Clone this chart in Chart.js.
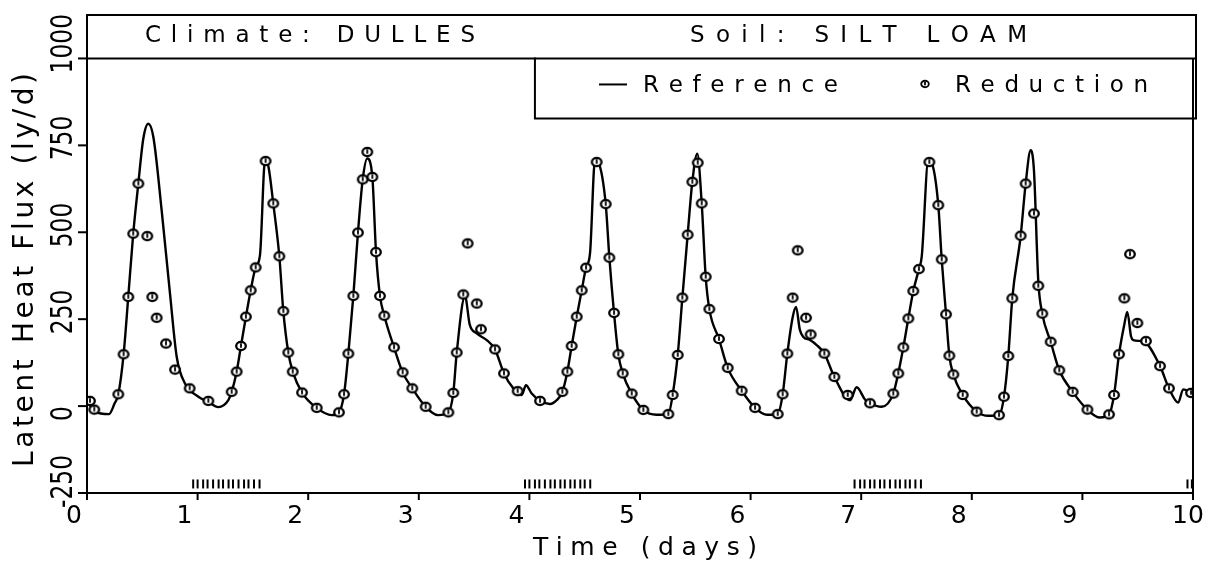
<!DOCTYPE html>
<html>
<head>
<meta charset="utf-8">
<script src="https://cdn.jsdelivr.net/npm/chart.js@4.4.1/dist/chart.umd.min.js"></script>
<style>
  html, body { margin: 0; padding: 0; background: #fff; }
  canvas { display: block; }
</style>
</head>
<body>
<canvas id="flux-chart" width="1221" height="570"></canvas>
<script>
// reference run: latent heat flux (ly/d) against time (days)
const refDays = [
  0.00, 0.07, 0.20, 0.25, 0.283, 0.331, 0.373, 0.418, 0.464, 0.509, 0.554, 0.600, 0.675, 0.750, 0.811, 0.886,
  1.007, 1.097, 1.187, 1.278, 1.308, 1.353, 1.392, 1.437, 1.480, 1.525, 1.564, 1.610, 1.640, 1.684, 1.739, 1.775, 1.820, 1.860, 1.944,
  2.077, 2.212, 2.278, 2.324, 2.363, 2.408, 2.450, 2.493, 2.534, 2.580, 2.613, 2.649, 2.688, 2.776, 2.854, 2.941,
  3.062, 3.176, 3.267, 3.312, 3.343, 3.418, 3.460, 3.524, 3.614, 3.689, 3.770, 3.855, 3.930, 3.969,
  4.021, 4.096, 4.186, 4.247, 4.298, 4.343, 4.382, 4.428, 4.473, 4.512, 4.548, 4.593, 4.625, 4.690, 4.723, 4.765, 4.804, 4.844, 4.925,
  5.030, 5.150, 5.256, 5.295, 5.341, 5.383, 5.431, 5.473, 5.518, 5.558, 5.594, 5.627, 5.714, 5.793, 5.919,
  6.040, 6.150, 6.245, 6.290, 6.332, 6.380, 6.411, 6.445, 6.477, 6.537, 6.600, 6.667, 6.757, 6.899, 6.959,
  7.034, 7.080, 7.185, 7.290, 7.335, 7.381, 7.426, 7.471, 7.522, 7.547, 7.607, 7.637, 7.697, 7.728, 7.767, 7.797, 7.833, 7.918,
  8.044, 8.150, 8.246, 8.291, 8.330, 8.366, 8.442, 8.487, 8.532, 8.562, 8.601, 8.637, 8.713, 8.791, 8.912,
  9.045, 9.159, 9.241, 9.286, 9.331, 9.379, 9.406, 9.440, 9.460, 9.557, 9.702, 9.783, 9.866, 9.911, 9.990
];
const refFlux = [
  15, -16, -23, 8, 34, 149, 314, 496, 640, 769, 812, 774, 563, 325, 142, 65,
  27, 12, -3, 17, 41, 99, 173, 257, 333, 399, 434, 707, 690, 583, 431, 273, 154, 99, 39,
  -5, -26, -18, 34, 151, 317, 499, 652, 712, 659, 443, 317, 260, 169, 97, 51,
  -2, -26, -18, 38, 154, 316, 235, 209, 190, 163, 94, 51, 32, 60,
  36, 15, 6, 17, 41, 99, 173, 257, 333, 398, 439, 707, 700, 581, 427, 268, 149, 94, 36,
  -11, -25, -23, 32, 147, 312, 493, 645, 726, 583, 372, 279, 193, 110, 44,
  -5, -25, -23, 34, 151, 255, 285, 220, 199, 190, 175, 151, 84, 17, 54,
  19, 8, -2, 36, 94, 169, 252, 331, 394, 429, 707, 700, 578, 422, 264, 145, 91, 32,
  -16, -28, -26, 27, 144, 310, 490, 640, 736, 678, 360, 266, 185, 103, 41,
  -10, -33, -24, 32, 149, 235, 271, 200, 190, 185, 115, 51, 10, 48, 38
];

// reduced run, sampled points
const redDays = [
  0.027, 0.066, 0.283, 0.331, 0.373, 0.418, 0.464, 0.545, 0.590, 0.630, 0.714, 0.796, 0.928,
  1.097, 1.308, 1.353, 1.392, 1.437, 1.480, 1.525, 1.615, 1.684, 1.739, 1.775, 1.820, 1.860, 1.944,
  2.077, 2.278, 2.324, 2.363, 2.408, 2.450, 2.493, 2.534, 2.580, 2.613, 2.649, 2.688, 2.776, 2.854, 2.941,
  3.062, 3.267, 3.312, 3.343, 3.402, 3.442, 3.524, 3.562, 3.689, 3.770, 3.894,
  4.096, 4.298, 4.343, 4.382, 4.428, 4.473, 4.512, 4.608, 4.690, 4.723, 4.765, 4.804, 4.844, 4.925,
  5.030, 5.256, 5.295, 5.341, 5.383, 5.431, 5.473, 5.522, 5.558, 5.594, 5.627, 5.714, 5.793, 5.919,
  6.040, 6.245, 6.290, 6.332, 6.380, 6.426, 6.501, 6.543, 6.667, 6.757, 6.878,
  7.080, 7.290, 7.335, 7.381, 7.426, 7.471, 7.522, 7.616, 7.697, 7.728, 7.767, 7.797, 7.833, 7.918,
  8.044, 8.246, 8.291, 8.330, 8.366, 8.442, 8.487, 8.562, 8.601, 8.637, 8.713, 8.791, 8.912,
  9.045, 9.241, 9.286, 9.331, 9.379, 9.430, 9.497, 9.575, 9.702, 9.783, 9.982
];
const redFlux = [
  15, -10, 34, 149, 314, 496, 640, 489, 314, 254, 180, 105, 51,
  15, 41, 99, 173, 257, 333, 399, 705, 583, 431, 273, 154, 99, 39,
  -5, -18, 34, 151, 317, 499, 652, 731, 659, 443, 317, 260, 169, 97, 51,
  -2, -18, 38, 154, 321, 468, 295, 221, 163, 94, 43,
  15, 41, 99, 173, 257, 333, 398, 702, 581, 427, 268, 149, 94, 36,
  -11, -23, 32, 147, 312, 493, 645, 700, 583, 372, 279, 193, 110, 44,
  -5, -23, 34, 151, 312, 448, 254, 206, 151, 84, 32,
  8, 36, 94, 169, 252, 331, 394, 702, 578, 422, 264, 145, 91, 32,
  -16, -26, 27, 144, 310, 490, 640, 554, 346, 266, 185, 103, 41,
  -10, -24, 32, 149, 310, 437, 239, 187, 115, 51, 38
];

// event marks along the bottom of the plot
const eventDays = [
  0.96, 1.00, 1.05, 1.09, 1.14, 1.19, 1.23, 1.28, 1.32, 1.37, 1.42, 1.46, 1.51, 1.56,
  3.96, 4.00, 4.05, 4.09, 4.14, 4.19, 4.23, 4.28, 4.32, 4.37, 4.41, 4.46, 4.50, 4.55,
  6.94, 6.99, 7.03, 7.08, 7.12, 7.17, 7.21, 7.26, 7.31, 7.35, 7.40, 7.44, 7.49, 7.54,
  9.95, 9.99
];
const eventLevel = -224;

const xTicks = [0, 1, 2, 3, 4, 5, 6, 7, 8, 9, 10];
const yTicks = [-250, 0, 250, 500, 750, 1000];

const INK = '#000';
const FONT = '"DejaVu Sans", sans-serif';

// open circle with a small stroke inside, like the plotter symbol
function makeMarker(r, lw) {
  const size = 2 * Math.ceil(r + lw) + 2;
  const c = document.createElement('canvas');
  c.width = size;
  c.height = size;
  const g = c.getContext('2d');
  const cx = size / 2, cy = size / 2;
  g.strokeStyle = INK;
  g.fillStyle = '#fff';
  g.lineWidth = lw;
  g.beginPath();
  g.ellipse(cx, cy, r, r * 0.85, 0, 0, Math.PI * 2);
  g.fill();
  g.stroke();
  g.lineWidth = 1.8;
  g.beginPath();
  g.moveTo(cx, cy - r * 0.55);
  g.lineTo(cx, cy + r * 0.35);
  g.stroke();
  return c;
}
const marker = makeMarker(4.8, 2.3);
const legendMarker = makeMarker(3.8, 1.8);

// draw text with extra spacing so it fills the given width
function spacedText(ctx, text, x, y, width) {
  const chars = [...text];
  const ws = chars.map(ch => ctx.measureText(ch).width);
  const total = ws.reduce((a, b) => a + b, 0);
  const gap = chars.length > 1 ? (width - total) / (chars.length - 1) : 0;
  let cx = x;
  chars.forEach((ch, i) => {
    ctx.fillText(ch, cx, y);
    cx += ws[i] + gap;
  });
}

const framePlugin = {
  id: 'frame',
  afterDraw(chart) {
    const ctx = chart.ctx;
    const { left, right, top, bottom } = chart.chartArea;
    const xs = chart.scales.x, ys = chart.scales.y;
    const y1000 = ys.getPixelForValue(1000);

    ctx.save();
    ctx.strokeStyle = INK;
    ctx.fillStyle = INK;
    ctx.lineWidth = 2;
    ctx.lineCap = 'square';

    // outer frame and header band
    ctx.beginPath();
    ctx.moveTo(left, top); ctx.lineTo(right + 3, top);
    ctx.moveTo(right + 3, top); ctx.lineTo(right + 3, y1000);
    ctx.moveTo(right, y1000); ctx.lineTo(right, bottom);
    ctx.moveTo(left, top); ctx.lineTo(left, bottom + 5);
    ctx.moveTo(left, bottom); ctx.lineTo(right, bottom);
    ctx.moveTo(left, y1000); ctx.lineTo(right + 3, y1000);
    ctx.stroke();

    // legend box hanging under the header
    const lx = left + (right - left) * 0.405;
    const lb = y1000 + 60;
    ctx.beginPath();
    ctx.moveTo(lx, y1000); ctx.lineTo(lx, lb); ctx.lineTo(right + 3, lb); ctx.lineTo(right + 3, y1000);
    ctx.stroke();

    // y ticks and rotated labels
    ctx.font = '30px ' + FONT;
    ctx.textAlign = 'left';
    ctx.textBaseline = 'alphabetic';
    yTicks.forEach(v => {
      const p = ys.getPixelForValue(v);
      ctx.beginPath();
      ctx.moveTo(left - 8, p); ctx.lineTo(left, p);
      ctx.stroke();
      ctx.save();
      ctx.translate(left - 15, p + 15);
      ctx.rotate(-Math.PI / 2);
      ctx.scale(0.78, 1);
      ctx.fillText(String(v), 0, 0);
      ctx.restore();
    });

    // x ticks and labels
    ctx.font = '25px ' + FONT;
    xTicks.forEach(v => {
      const p = xs.getPixelForValue(v);
      ctx.beginPath();
      ctx.moveTo(p, bottom); ctx.lineTo(p, bottom + 6);
      ctx.stroke();
      ctx.fillText(String(v), p - 21, bottom + 30);
    });

    // axis titles
    ctx.font = '25px ' + FONT;
    spacedText(ctx, 'Time (days)', 533, bottom + 62, 224);
    ctx.save();
    ctx.font = '28px ' + FONT;
    ctx.translate(33, 467);
    ctx.rotate(-Math.PI / 2);
    spacedText(ctx, 'Latent Heat Flux (ly/d)', 0, 0, 394);
    ctx.restore();

    // header
    ctx.font = '23px ' + FONT;
    spacedText(ctx, 'Climate: DULLES', 145, top + 27, 330);
    spacedText(ctx, 'Soil: SILT LOAM', 690, top + 27, 337);

    // legend entries
    const ly = y1000 + 34;
    ctx.lineWidth = 2;
    ctx.beginPath();
    ctx.moveTo(600, ly - 8); ctx.lineTo(626, ly - 8);
    ctx.stroke();
    spacedText(ctx, 'Reference', 643, ly, 195);
    ctx.drawImage(legendMarker, Math.round(925 - legendMarker.width / 2), Math.round(ly - 8 - legendMarker.height / 2));
    spacedText(ctx, 'Reduction', 955, ly, 193);

    ctx.restore();
  }
};

const toPoints = (xsArr, ysArr) => xsArr.map((x, i) => ({ x, y: ysArr[i] }));

new Chart(document.querySelector('#flux-chart').getContext('2d'), {
  type: 'scatter',
  data: {
    datasets: [
      {
        label: 'Reduction',
        data: toPoints(redDays, redFlux),
        showLine: false,
        pointStyle: marker,
        pointRadius: 5,
        order: 0
      },
      {
        label: 'Reference',
        data: toPoints(refDays, refFlux),
        showLine: true,
        borderColor: INK,
        borderWidth: 2.4,
        pointRadius: 0,
        cubicInterpolationMode: 'monotone',
        order: 1
      },
      {
        label: 'events',
        data: eventDays.map(x => ({ x, y: eventLevel })),
        showLine: false,
        pointStyle: 'line',
        rotation: 90,
        pointRadius: 4.5,
        borderColor: INK,
        borderWidth: 2,
        order: 2
      }
    ]
  },
  options: {
    responsive: false,
    animation: false,
    layout: { padding: { left: 87, right: 28, top: 15, bottom: 77 } },
    plugins: {
      legend: { display: false },
      tooltip: { enabled: false }
    },
    scales: {
      x: { type: 'linear', min: 0, max: 10, display: false },
      y: { type: 'linear', min: -250, max: 1125, display: false }
    }
  },
  plugins: [framePlugin]
});
</script>
</body>
</html>
